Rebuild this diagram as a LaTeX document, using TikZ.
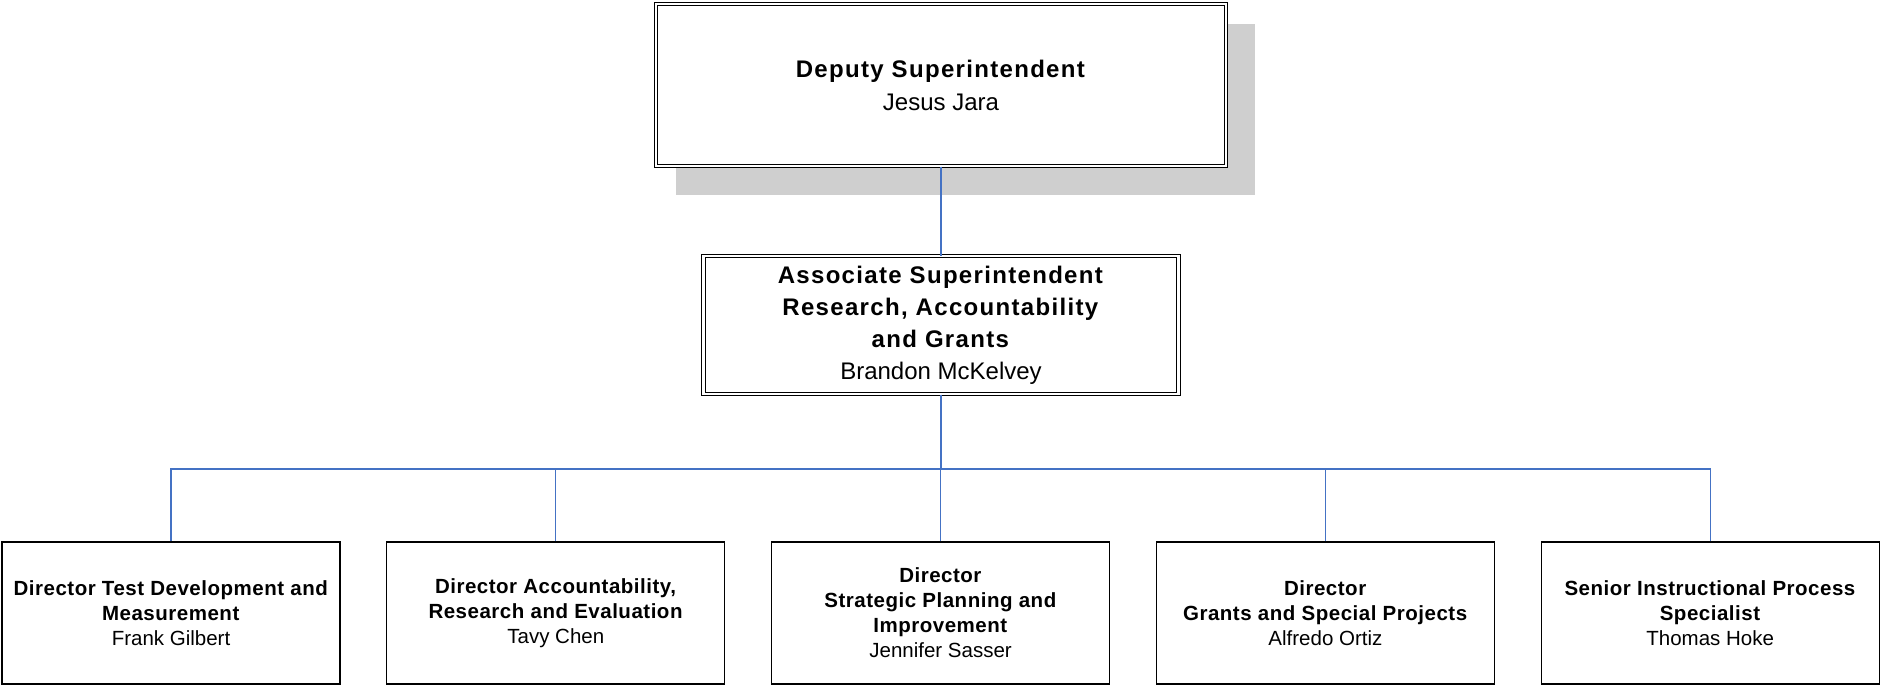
\documentclass[tikz,border=0pt]{standalone}
\usepackage{fontspec}
\setmainfont{Liberation Sans}[BoldFeatures={LetterSpace=2.5}]
\newfontfamily\topfont{Liberation Sans}[BoldFeatures={LetterSpace=5.5}]
\usetikzlibrary{positioning,backgrounds}
\definecolor{linkblue}{RGB}{68,114,196}
\definecolor{shadowgray}{RGB}{207,207,207}

\begin{document}
\begin{tikzpicture}[x=1pt,y=1pt,yscale=-1,xscale=1,
  headbox/.style={draw,double,line width=1pt,double distance=2.5pt,fill=white,align=center,inner sep=0pt},
  staffbox/.style={draw,line width=1.3pt,fill=white,minimum width=338pt,minimum height=142pt,align=center,inner sep=0pt,font=\fontsize{20.5}{25}\selectfont},
  link/.style={draw=linkblue,line width=1.2pt}]
\useasboundingbox (0,0) rectangle (1881,686);

%Shape: Rectangle [deputy]
\node[headbox,minimum width=570pt,minimum height=162pt,font=\topfont\fontsize{24}{33}\selectfont] (dep) at (941,85) {\textbf{Deputy Superintendent}\\Jesus Jara};
%Shape: Shadow
\begin{scope}[on background layer]
\fill[shadowgray] ([shift={(20,20)}]dep.north west) rectangle ([shift={(28,28)}]dep.south east);
\end{scope}

%Shape: Rectangle [associate]
\node[headbox,minimum width=475pt,minimum height=138pt,font=\topfont\fontsize{24}{32}\selectfont] (assoc) at (941,325) {\textbf{Associate Superintendent}\\\textbf{Research, Accountability}\\\textbf{and Grants}\\Brandon McKelvey};

% Text Node
\node[staffbox] (testdev) at (171,613) {\textbf{Director Test Development and}\\\textbf{Measurement}\\Frank Gilbert};
% Text Node
\node[staffbox,right=45.5pt of testdev] (accres) {\textbf{Director Accountability,}\\\textbf{Research and Evaluation}\\Tavy Chen};
% Text Node
\node[staffbox,right=45.5pt of accres] (planning) {\textbf{Director}\\\textbf{Strategic Planning and}\\\textbf{Improvement}\\Jennifer Sasser};
% Text Node
\node[staffbox,right=45.5pt of planning] (grants) {\textbf{Director}\\\textbf{Grants and Special Projects}\\Alfredo Ortiz};
% Text Node
\node[staffbox,right=45.5pt of grants] (process) {\textbf{Senior Instructional Process}\\\textbf{Specialist}\\Thomas Hoke};

%Straight Lines
\coordinate (bus) at (941,469);
\draw[link] (dep) -- (assoc);
\draw[link] (assoc) -- (bus);
\foreach \n in {testdev,accres,planning,grants,process}
  \draw[link] (\n.north) |- (bus);

\end{tikzpicture}
\end{document}
